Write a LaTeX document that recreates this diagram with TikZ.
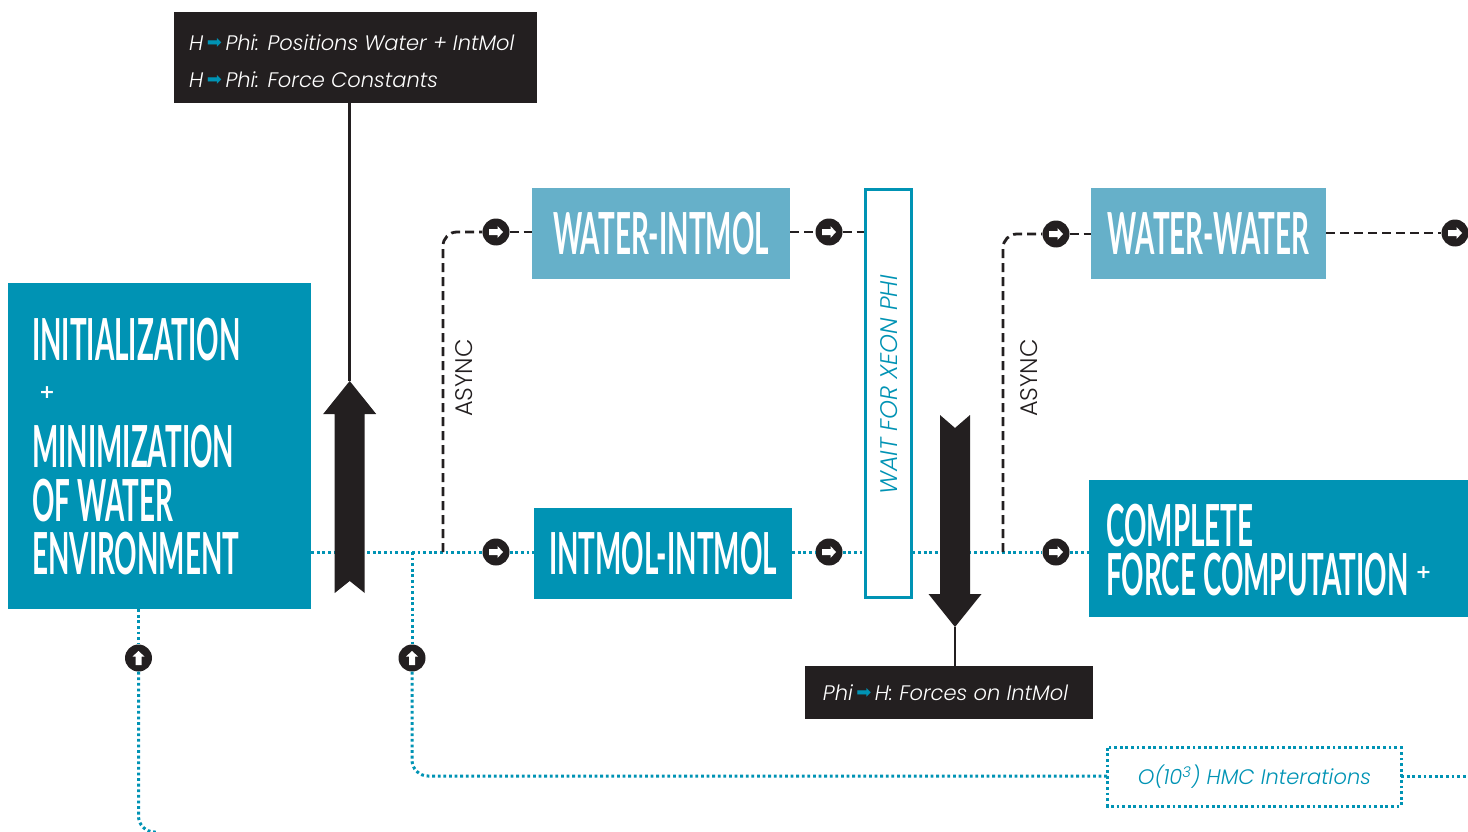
\documentclass[tikz,border=0pt]{standalone}
\usepackage{fontspec}
\usepackage{tikz}
\usepackage{color}
\setmainfont{Poppins Light}[ItalicFont={Poppins Light Italic}]
\newfontfamily\headfont[FakeStretch=0.48]{Lato}
\newfontfamily\symbfont{DejaVu Sans}
\definecolor{ink}{HTML}{231F20}
\definecolor{teal}{HTML}{0093B4}
\definecolor{paleteal}{HTML}{66B0C9}
\newcommand{\tealarrow}{\,\raisebox{1.5pt}{\symbfont\fontsize{18}{18}\selectfont\textcolor{teal}{➡}}\,}
\newcommand{\plusmark}{{\symbfont\bfseries\fontsize{19}{19}\selectfont +}}
\tikzset{
    block/.style={
           rectangle,
           fill=teal,
           text=white,
           inner sep=0pt,
           anchor=center,
           font=\headfont\bfseries\fontsize{58}{53}\selectfont,
           },
    paleblock/.style={block, fill=paleteal},
    note/.style={
           rectangle,
           fill=ink,
           text=white,
           inner sep=0pt,
           anchor=center,
           font=\itshape\fontsize{21}{37}\selectfont,
           },
    hopbase/.style={
           circle,
           fill=ink,
           minimum size=27pt,
           inner sep=0pt,
           },
    hop/.style={
           hopbase,
           path picture={
               \fill[white, shift={(path picture bounding box.center)}]
                   (-7,-3) -- (1.5,-3) -- (1.5,-6) -- (7,0) -- (1.5,6) -- (1.5,3) -- (-7,3) -- cycle;
           },
           },
    hopup/.style={
           hopbase,
           path picture={
               \fill[white, shift={(path picture bounding box.center)}]
                   (-3,7) -- (-3,-1.5) -- (-6,-1.5) -- (0,-7) -- (6,-1.5) -- (3,-1.5) -- (3,7) -- cycle;
           },
           },
    dots/.style={teal, line width=3pt, dash pattern=on 2.8pt off 2.8pt},
    dashes/.style={ink, line width=2.8pt, dash pattern=on 9pt off 5pt},
    wire/.style={ink, line width=2.6pt},
    bigarrow/.style={ink, fill=ink, draw=none},
    sidetext/.style={rotate=90, anchor=center, inner sep=0pt, font=\fontsize{24}{24}\selectfont},
}
\begin{document}
\begin{tikzpicture}[x=1pt, y=-1pt]
    \useasboundingbox (0,0) rectangle (1468,832);

    % boxes on the main line
    \node[block, minimum width=303pt, minimum height=326pt] (init) at (159.5,446)
        {};
    \node[anchor=north west, inner sep=0pt, text=white, align=left,
        font=\headfont\bfseries\fontsize{58}{53.5}\selectfont] (inittext) at (32,318)
        {INITIALIZATION\\
        \hspace{7pt}\raisebox{15.5pt}{\plusmark}\\
        MINIMIZATION\\OF WATER\\ENVIRONMENT};
    \node[block, minimum width=258pt, minimum height=91pt] (intmol) at (663,553.5)
        {\raisebox{-2pt}{INTMOL-INTMOL}};
    \node[paleblock, minimum width=258pt, minimum height=91pt] (waterintmol) at (661,233.5)
        {\raisebox{-2pt}{WATER-INTMOL}};
    \node[paleblock, minimum width=235pt, minimum height=91pt] (waterwater) at (1208.5,233.5)
        {\raisebox{-2pt}{WATER-WATER}};
    \node[block, minimum width=379pt, minimum height=137pt, align=left] (complete) at (1278.5,548.5)
        {};
    \node[anchor=west, inner sep=0pt, text=white, align=left,
        font=\headfont\bfseries\fontsize{58}{49}\selectfont] (completetext) at (1106,550)
        {COMPLETE\\FORCE COMPUTATION \raisebox{16.5pt}{\plusmark}};

    % wait box
    \node[rectangle, draw=teal, line width=3pt, fill=white, inner sep=0pt,
        minimum width=46pt, minimum height=407pt, anchor=center] (wait) at (888,393.5) {};
    \node[sidetext, text=teal, font=\itshape\fontsize{24}{24}\selectfont] (waittext) at (889,385) {WAIT FOR XEON PHI};

    % black notes
    \node[note, minimum width=363pt, minimum height=91pt, align=left] (tonote) at (355.5,57.5) {};
    \node[anchor=west, inner sep=0pt, text=white, align=left,
        font=\itshape\fontsize{21}{37}\selectfont] (tonotetext) at (189,61)
        {H\tealarrow Phi: Positions Water + IntMol\\H\tealarrow Phi: Force Constants};
    \node[note, minimum width=288pt, minimum height=53pt] (fromnote) at (949,692.5)
        {\raisebox{-1pt}{Phi\tealarrow H: Forces on IntMol}\kern7pt};
    \node[rectangle, text=teal, inner sep=0pt, minimum width=293pt, minimum height=58pt,
        anchor=center, font=\itshape\fontsize{21}{21}\selectfont] (hmc) at (1254.5,777)
        {\raisebox{-2pt}{O(10\textsuperscript{3}) HMC Interations}};

    % hops
    \node[hop] (hopa) at (496,552) {};
    \node[hop, right of=hopa, node distance=333pt] (hopb) {};
    \node[hop, right of=hopb, node distance=227pt] (hopc) {};
    \node[hop] (hopd) at (496,232) {};
    \node[hop, right of=hopd, node distance=333pt] (hope) {};
    \node[hop] (hopf) at (1056,234) {};
    \node[hop] (hopg) at (1455,233) {};
    \node[hopup] (hoph) at (138.5,658) {};
    \node[hopup] (hopi) at (412,658) {};

    % free ends
    \coordinate (splita) at (443,552);
    \coordinate (splitb) at (1003,552);
    \coordinate (splitc) at (412,552);
    \coordinate (endleft) at (156,832);
    \coordinate (endright) at (1468,776);
    \coordinate (uptip) at (349.7,381);
    \coordinate (downtip) at (955,627);

    % dotted main line
    \draw[dots] (init.east |- hopa) -- (hopa);
    \draw[dots] (hopa) -- (intmol.west |- hopa);
    \draw[dots] (intmol.east |- hopb) -- (hopb);
    \draw[dots] (hopb) -- (wait.west |- hopb);
    \draw[dots] (wait.east |- hopc) -- (hopc);
    \draw[dots] (hopc) -- (complete.west |- hopc);
    \draw[dots] (splitc) -- (hopi);
    \draw[dots, rounded corners=16pt] (hopi) |- (hmc.west |- endright);
    \draw[dots] (hmc.east |- endright) -- (endright);
    \draw[dots] (init.south -| hoph) -- (hoph);
    \draw[dots, rounded corners=16pt] (hoph) |- (endleft);
    \draw[dots] (hmc.north west) rectangle (hmc.south east);
    % dashed async lines
    \draw[dashes, rounded corners=14pt] (splita) |- (hopd);
    \draw[dashes] (hopd) -- (waterintmol.west |- hopd);
    \draw[dashes] (waterintmol.east |- hope) -- (hope);
    \draw[dashes] (hope) -- (wait.west |- hope);
    \draw[dashes, rounded corners=14pt] (splitb) |- (hopf);
    \draw[dashes] (hopf) -- (waterwater.west |- hopf);
    \draw[dashes] (waterwater.east |- hopg) -- (hopg);

    \node[sidetext, text=ink] (asynca) at (464,378) {ASYNC};
    \node[sidetext, text=ink] (asyncb) at (1029,378) {ASYNC};

    % thin wires and the big arrows
    \draw[wire] (tonote.south -| uptip) -- (uptip);
    \draw[wire] (fromnote.north -| downtip) -- (downtip);
    \fill[bigarrow, shift={(uptip)}] (0,0) -- (26.5,33) -- (15,33) -- (15,212) -- (0,200) -- (-15,212) -- (-15,33) -- (-26.5,33) -- cycle;
    \fill[bigarrow, shift={(downtip)}] (0,0) -- (26.5,-33) -- (15,-33) -- (15,-212) -- (0,-199) -- (-15,-212) -- (-15,-33) -- (-26.5,-33) -- cycle;
\end{tikzpicture}
\end{document}
